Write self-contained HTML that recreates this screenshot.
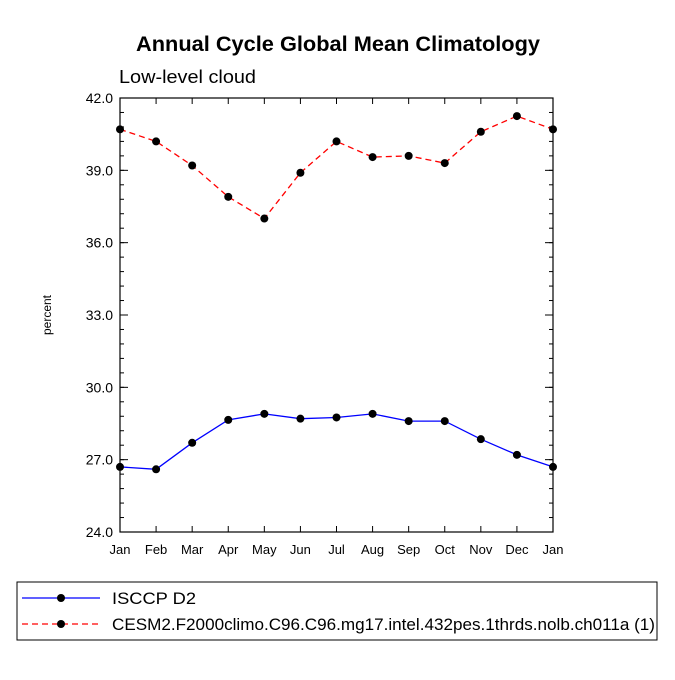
<!DOCTYPE html>
<html><head><meta charset="utf-8"><style>
body{margin:0;background:#fff;}
svg text{font-family:"Liberation Sans",sans-serif;}
</style></head><body>
<svg id="chart" width="675" height="675" viewBox="0 0 675 675" xmlns="http://www.w3.org/2000/svg">
<rect width="675" height="675" fill="#fff"/>
<text x="136" y="51" font-size="21" font-weight="bold" textLength="404" lengthAdjust="spacingAndGlyphs">Annual Cycle Global Mean Climatology</text>
<text x="119" y="83" font-size="18" textLength="137" lengthAdjust="spacingAndGlyphs">Low-level cloud</text>
<text transform="translate(51,315) rotate(-90)" text-anchor="middle" font-size="12">percent</text>
<g id="axes"></g>
<g id="series"></g>
<rect x="17" y="582" width="640" height="58" fill="none" stroke="#000" stroke-width="1"/>
<g>
<line x1="22" y1="598" x2="100" y2="598" stroke="#00f" stroke-width="1.2"/>
<circle cx="61" cy="598" r="4" fill="#000"/>
<text x="112" y="604" font-size="17" textLength="84" lengthAdjust="spacingAndGlyphs">ISCCP D2</text>
</g>
<g>
<line x1="22" y1="624" x2="100" y2="624" stroke="#f00" stroke-width="1.2" stroke-dasharray="6,4"/>
<circle cx="61" cy="624" r="4" fill="#000"/>
<text x="112" y="630" font-size="17" textLength="543" lengthAdjust="spacingAndGlyphs">CESM2.F2000climo.C96.C96.mg17.intel.432pes.1thrds.nolb.ch011a (1)</text>
</g>
</svg>
<script>
const months = ["Jan","Feb","Mar","Apr","May","Jun","Jul","Aug","Sep","Oct","Nov","Dec","Jan"];
const isccp = [26.7,26.6,27.7,28.65,28.9,28.7,28.75,28.9,28.6,28.6,27.85,27.2,26.7];
const cesm = [40.7,40.2,39.2,37.9,37.0,38.9,40.2,39.55,39.6,39.3,40.6,41.25,40.7];
const yTicks = [24.0,27.0,30.0,33.0,36.0,39.0,42.0];
const yMin = 24, yMax = 42;
const L=120,R=553,T=98,B=532;
const NS="http://www.w3.org/2000/svg";
const xs = i => L + (R-L)*i/(months.length-1);
const ys = v => B - (B-T)*(v-yMin)/(yMax-yMin);
function mk(tag, attrs, parent){const e=document.createElementNS(NS,tag);for(const k in attrs)e.setAttribute(k,attrs[k]);parent.appendChild(e);return e;}
const ax=document.getElementById('axes');
const frame=mk('rect',{x:L,y:T,width:R-L,height:B-T,fill:'none',stroke:'#000','stroke-width':1.2},ax);


months.forEach((m,i)=>{
  const x=xs(i);
  mk('line',{x1:x,y1:B,x2:x,y2:B-6,stroke:'#000'},ax);
  mk('line',{x1:x,y1:T,x2:x,y2:T+6,stroke:'#000'},ax);
  const t=mk('text',{x:x,y:B+22,'text-anchor':'middle','font-size':13},ax);
  t.textContent=m;
  
  
});
for(let v=yMin; v<=yMax+0.001; v+=0.6){
  const y=ys(v);
  mk('line',{x1:L,y1:y,x2:L+4,y2:y,stroke:'#000'},ax);
  mk('line',{x1:R,y1:y,x2:R-4,y2:y,stroke:'#000'},ax);
}
yTicks.forEach(v=>{
  const y=ys(v);
  mk('line',{x1:L,y1:y,x2:L+8,y2:y,stroke:'#000'},ax);
  mk('line',{x1:R,y1:y,x2:R-8,y2:y,stroke:'#000'},ax);
  const t=mk('text',{x:L-7,y:y+5,'text-anchor':'end','font-size':14},ax);
  t.textContent=v.toFixed(1);
  
  
});
const sg=document.getElementById('series');
function draw(vals,color,dash,name){
  const pts=vals.map((v,i)=>xs(i)+','+ys(v)).join(' ');
  const pl=mk('polyline',{points:pts,fill:'none',stroke:color,'stroke-width':1.3},sg);
  if(dash)pl.setAttribute('stroke-dasharray',dash);
  
  
  vals.forEach((v,i)=>{
    const c=mk('circle',{cx:xs(i),cy:ys(v),r:4,fill:'#000'},sg);
    
    
  });
}
draw(isccp,'#00f',null,'isccp');
draw(cesm,'#f00','6,4','cesm2');
</script>
</body></html>
